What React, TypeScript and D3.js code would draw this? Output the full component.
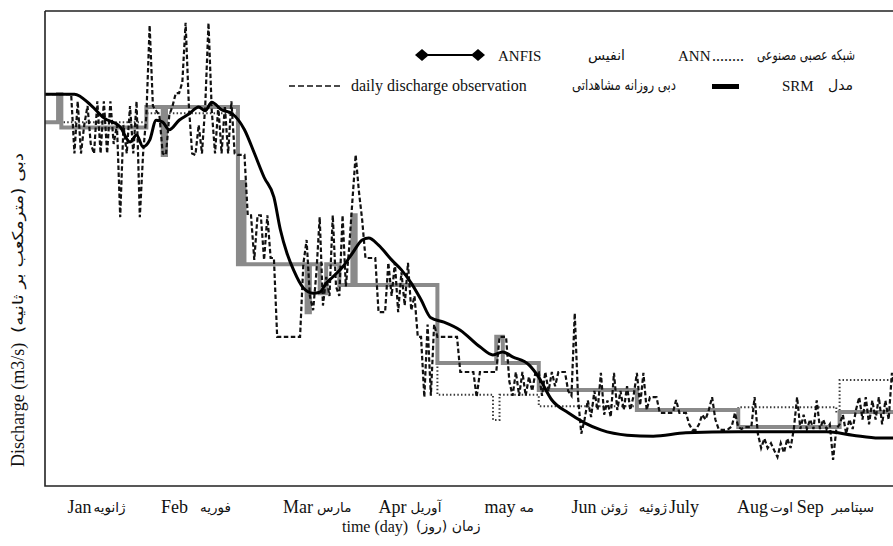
import React from 'react';
import * as d3 from 'd3';

// observed daily discharge, one array per month (relative discharge units)
const obsJan = [82.5, 82.5, 82.5, 82.5, 82.5, 82.5, 82.5, 82.5, 82.5, 70, 81, 70, 76, 80, 72, 70, 81, 70, 81, 70, 81, 72, 76, 56.6, 76, 70, 80, 70, 81, 56.6, 70];
const obsFeb = [78, 97, 80, 79, 78, 70, 69.7, 78, 80, 82.7, 82.7, 85, 97.5, 80, 70, 69.7, 76, 70, 80, 97.5, 79, 70, 80, 70, 80, 70, 81, 70];
const obsMar = [69.7, 69.7, 69.7, 57, 57, 47.6, 57, 57, 47.6, 57, 48, 48, 31.4, 31.4, 31.4, 31.4, 31.4, 31.4, 31.4, 31.4, 46.7, 51.8, 40, 37, 45, 56.6, 38, 44, 40, 57, 42];
const obsApr = [40, 57, 42, 50, 60, 69.7, 62, 56, 48, 48, 48, 48, 36.6, 36.6, 36.6, 47, 40, 47, 36.6, 45, 38, 47, 37, 40, 31.4, 31.4, 18.7, 34, 19, 34];
const obsMay = [31.4, 31.4, 31.4, 31.4, 31.4, 31.4, 31.4, 24, 24, 24, 24, 24, 18.7, 24, 24, 24, 24, 24, 24, 31.4, 31.4, 31.4, 22, 19, 24, 19, 24, 19, 23, 20, 24];
const obsJun = [24, 19, 24, 20, 24, 21, 24, 24, 24, 20, 19, 36.4, 18.7, 11, 14, 18, 14.5, 20, 16, 23.8, 15, 18, 14.5, 23.8, 16, 20, 16, 21, 16, 19];
const obsJul = [23.8, 17, 23.8, 16, 18.7, 18.7, 18.7, 15.4, 15.4, 15.4, 15.4, 15.4, 18.1, 15.4, 15.4, 15.4, 13, 11.8, 11.8, 13, 15, 14, 16, 18.7, 14, 12, 11.8, 11.8, 12, 12.5, 15.4];
const obsAug = [12.4, 12, 12.4, 12.4, 12.4, 18.7, 11, 8, 10, 8, 9, 7.5, 6.1, 9, 7, 10, 8, 12, 18.7, 12, 15, 12, 14, 12, 18, 12, 14, 12, 13, 5.5, 12];
const obsSep = [13, 15, 11, 14, 12, 16, 18.7, 14, 18.7, 13, 18, 14, 18.7, 13, 18, 14, 23.8, 20];

// SRM model
const srmDays = [0, 9, 14, 18, 23, 26, 28, 30, 32, 34, 36, 38, 41, 44, 47, 49, 51, 54, 57, 61, 64, 67, 70, 72, 74, 76, 79, 82, 84, 86, 88, 91, 94, 97, 99, 102, 106, 109, 112, 115, 118, 122, 127, 133, 137, 140, 143, 148, 151, 155, 160, 165, 170, 178, 186, 196, 212, 227, 239, 247, 255, 262];
const srmVals = [82.5, 82.5, 80.2, 77.5, 75.6, 72.4, 73.9, 71.4, 72.8, 77, 76.6, 75, 77, 78.3, 79.8, 79, 80.8, 79.2, 78.5, 75, 70.1, 65, 60.8, 53.9, 49, 45.5, 41.7, 40.6, 40.8, 42.7, 44, 46.1, 49, 51.8, 52.2, 50.7, 47.6, 45.5, 42.7, 39.2, 35.4, 34.5, 32.8, 29.3, 27.6, 28.2, 27.2, 25.5, 22.9, 18.1, 15.4, 13.3, 11.8, 10.7, 10.5, 11.2, 11.4, 11.4, 11.4, 10.7, 10.1, 10.1];

// ANFIS (step values from start day)
const anfisStart = [0, 4, 5, 31, 36, 37, 59, 60, 61, 80, 81, 84, 86, 90, 94, 95, 120, 138, 140, 151, 181, 212, 243, 262];
const anfisVals = [76.6, 82.5, 75.5, 79.8, 69.7, 79.8, 46.7, 64, 46.7, 36.6, 46.7, 40.6, 46.7, 42.3, 57, 42.3, 25.9, 31.4, 25.9, 20.2, 16, 12.4, 15.6, 15.6];

// ANN (step values from start day)
const annStart = [0, 31, 59, 90, 120, 137, 139, 151, 181, 212, 242, 243, 262];
const annVals = [76.6, 78.5, 46.7, 42.3, 19.2, 13.9, 19.2, 16.8, 16, 16.6, 15.4, 22.3, 22.3];

// month labels: day where the english and persian words meet
const monthAt = [14.5, 45.6, 82.6, 111.2, 144.5, 169.3, 190.5, 221.4, 239.4];
const monthEn = ['Jan', 'Feb', 'Mar', 'Apr', 'may', 'Jun', 'July', 'Aug', 'Sep'];
const monthFa = ['ژانویه', 'فوریه', 'مارس', 'آوریل', 'مه', 'ژوئن', 'ژوئیه', 'اوت', 'سپتامبر'];
const faFirst = [false, false, false, false, false, false, true, false, false];
const monthGap = [1, 6, 2, 2, 2, 2, 1, 1, 4];

const SERIF = '"Liberation Serif", "Times New Roman", "DejaVu Serif", serif';
const FA = '"DejaVu Sans", sans-serif';

export default function App() {
  const left = 45, top = 11, bottom = 486, width = 893, height = 546;
  const x = d3.scaleLinear().domain([0, 273]).range([left, left + 273 * 3.27]);
  const y = d3.scaleLinear().domain([0, 100]).range([bottom, top]);

  const observed = [...obsJan, ...obsFeb, ...obsMar, ...obsApr, ...obsMay, ...obsJun, ...obsJul, ...obsAug, ...obsSep];
  const lineXY = d3.line<[number, number]>().x((d) => x(d[0])).y((d) => y(d[1]));
  const stepLine = d3.line<[number, number]>().x((d) => x(d[0])).y((d) => y(d[1])).curve(d3.curveStepAfter);
  const smooth = d3.line<[number, number]>().x((d) => x(d[0])).y((d) => y(d[1])).curve(d3.curveMonotoneX);

  const obsPath = lineXY(observed.map((v, i) => [i, v]));
  const srmPath = smooth(srmDays.map((d, i) => [d, srmVals[i]]));
  const anfisPath = stepLine(anfisStart.map((d, i) => [d, anfisVals[i]]));
  const annPath = stepLine(annStart.map((d, i) => [d, annVals[i]]));

  return (
    <div style={{ position: 'fixed', left: 0, top: 0, background: '#fff' }}>
      <svg width={width} height={height} style={{ display: 'block', fontFamily: SERIF }}>
        <rect width={width} height={height} fill="#fff" />
        <defs>
          <clipPath id="plot">
            <rect x={left} y={top} width={width - left} height={bottom - top} />
          </clipPath>
        </defs>

        <g clipPath="url(#plot)" fill="none">
          <path d={annPath ?? ''} stroke="#3a3a3a" strokeWidth={2} strokeDasharray="1.5,2.2" />
          <path d={anfisPath ?? ''} stroke="#8a8a8a" strokeWidth={4} />
          <path d={obsPath ?? ''} stroke="#111" strokeWidth={2.2} strokeDasharray="4.5,2.5" />
          <path d={srmPath ?? ''} stroke="#000" strokeWidth={3} />
        </g>

        {/* frame */}
        <path d={`M${left},${top}H${width}M${left},${top}V${bottom}H${width}`} fill="none" stroke="#222" strokeWidth={1.6} />

        {/* month labels */}
        {monthAt.map((d, i) => {
          const cx = x(d);
          const g = monthGap[i];
          return (
            <g key={i} fill="#111">
              <text x={faFirst[i] ? cx + g : cx - g} y={bottom + 27} fontSize={18} textAnchor={faFirst[i] ? 'start' : 'end'}>
                {monthEn[i]}
              </text>
              <text x={faFirst[i] ? cx - g : cx + g} y={bottom + 26} fontSize={13.5} fontFamily={FA} textAnchor={faFirst[i] ? 'end' : 'start'}>
                {monthFa[i]}
              </text>
            </g>
          );
        })}
        <text x={342} y={bottom + 46} fontSize={16} fill="#111">time (day)</text>
        <text x={416} y={bottom + 45} fontSize={14} fontFamily={FA} fill="#111">زمان (روز)</text>

        <g transform="translate(24,0) rotate(-90)" fill="#111">
          <text x={-467} y={0} fontSize={18}>Discharge (m3/s)</text>
          <text x={-333} y={-1} fontSize={15} fontFamily={FA} textLength={180} lengthAdjust="spacingAndGlyphs">
            دبی (مترمکعب بر ثانیه)
          </text>
        </g>

        {/* legend */}
        <g fontSize={16} fill="#111">
          <line x1={422} x2={478} y1={55} y2={55} stroke="#000" strokeWidth={2} />
          <path d="M415,55L422,49L429,55L422,61Z" fill="#000" />
          <path d="M471,55L478,49L485,55L478,61Z" fill="#000" />
          <text x={498} y={61} fontSize={15}>ANFIS</text>
          <text x={588} y={60} fontFamily={FA} fontSize={14}>انفیس</text>
          <text x={678} y={61} fontSize={15}>ANN</text>
          <text x={712} y={61}>........</text>
          <text x={757} y={60} fontFamily={FA} fontSize={14.5} textLength={98} lengthAdjust="spacingAndGlyphs">
            شبکه عصبی مصنوعی
          </text>

          <line x1={289} x2={343} y1={86} y2={86} stroke="#111" strokeWidth={1.4} strokeDasharray="6,3" />
          <text x={351} y={91}>daily discharge observation</text>
          <text x={572} y={90} fontFamily={FA} fontSize={14.5} textLength={104} lengthAdjust="spacingAndGlyphs">
            دبی روزانه مشاهداتی
          </text>
          <rect x={712} y={84} width={27} height={5} fill="#000" />
          <text x={782} y={91} fontSize={15}>SRM</text>
          <text x={853} y={90} textAnchor="end" fontFamily={FA} fontSize={14}>مدل</text>
        </g>
      </svg>
    </div>
  );
}
